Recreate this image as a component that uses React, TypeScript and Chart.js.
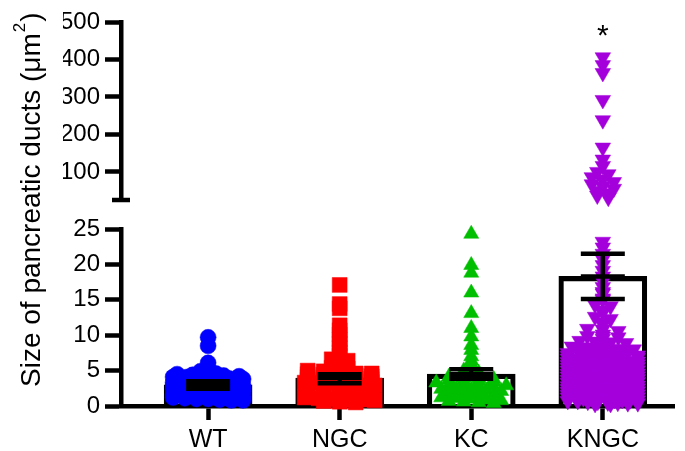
import React, { useEffect, useRef } from 'react';
import { Chart, registerables } from 'chart.js';

Chart.register(...registerables);

// ---------- data ----------
const CATEGORIES = ['WT', 'NGC', 'KC', 'KNGC'];
const BAR_MEANS = [3.0, 3.95, 4.5, 18.3];
const ERR_LOW = [2.45, 3.2, 3.85, 15.1];
const ERR_HIGH = [3.5, 4.5, 5.2, 21.5];
const SIGNIFICANCE = ['', '', '', '*'];
const SIGNIFICANCE_VALUE = 438; // upper-axis units
const LOWER_TICKS = [0, 5, 10, 15, 20, 25];
const UPPER_TICKS = [100, 200, 300, 400, 500];
const BREAK_VALUE = 25;

const WT_VALUES = [9.7, 8.5, 6.1, 5.3, 4.9, 4.6, 4.5, 4.4, 4.4, 4.3, 4.2, 4.1, 4.1, 4.0, 3.9, 3.9, 3.8, 3.7, 3.6, 3.6, 3.5, 3.4, 3.3, 3.2, 3.2, 3.1, 3.0, 2.9, 2.9, 2.8, 2.8, 2.7, 2.6, 2.5, 2.5, 2.4, 2.4, 2.3, 2.2, 2.1, 2.1, 2.0, 1.9, 1.9, 1.8, 1.7, 1.6, 1.6, 1.5, 1.4, 1.4, 1.3, 1.2, 1.1, 1.0, 1.0, 0.9, 0.8, 0.8];
const NGC_VALUES = [17.1, 14.4, 13.8, 11.4, 10.7, 10.1, 9.4, 8.8, 8.2, 7.6, 7.1, 6.6, 6.4, 6.0, 5.8, 5.4, 5.3, 5.0, 4.9, 4.7, 4.6, 4.6, 4.5, 4.4, 4.3, 4.3, 4.2, 4.1, 4.0, 4.0, 3.9, 3.8, 3.7, 3.7, 3.6, 3.5, 3.4, 3.3, 3.3, 3.2, 3.1, 3.0, 2.9, 2.9, 2.8, 2.7, 2.6, 2.5, 2.5, 2.4, 2.3, 2.2, 2.1, 2.1, 2.0, 1.9, 1.8, 1.7, 1.7, 1.6, 1.5, 1.4, 1.3, 1.3, 1.2, 1.1, 1.0, 0.9, 0.9, 0.8, 0.7, 0.6, 0.5];
const KC_VALUES = [24.3, 19.9, 18.8, 16.0, 13.1, 11.0, 9.8, 8.6, 7.9, 7.0, 6.4, 5.9, 5.5, 5.0, 4.7, 4.4, 4.3, 4.1, 4.0, 3.9, 3.8, 3.7, 3.6, 3.5, 3.4, 3.3, 3.2, 3.1, 3.0, 3.0, 2.9, 2.8, 2.7, 2.6, 2.5, 2.4, 2.4, 2.3, 2.2, 2.1, 2.0, 1.9, 1.8, 1.7, 1.6, 1.5, 1.4, 1.3, 1.2, 1.1, 1.0, 0.9, 0.8, 0.7, 0.6, 0.5, 0.4];
const KNGC_VALUES = [406, 385, 364, 292, 238, 165, 133, 116, 100, 94, 86, 80, 73, 67, 61, 55, 49, 43, 37, 31,
  23.2, 22.4, 21.5, 20.7, 19.9, 19.1, 18.3, 17.6, 16.8, 16.1, 15.9, 15.2, 15.0, 14.3, 14.1, 13.5, 13.2, 12.6, 12.3, 11.8, 11.5, 10.9, 10.8, 10.6, 10.1, 9.9, 9.8, 9.7, 9.5, 9.2, 9.1, 9.0, 8.9, 8.6, 8.4, 8.3, 8.2, 8.1, 8.0, 7.9, 7.8, 7.7, 7.6, 7.5, 7.45, 7.4, 7.3, 7.25, 7.2, 7.15, 7.1,
  6.95, 6.9, 6.85, 6.8, 6.8, 6.7, 6.6, 6.6, 6.5, 6.5, 6.45, 6.4, 6.3, 6.2, 6.2, 6.1, 6.0, 6.0, 5.95, 5.9, 5.9, 5.8, 5.7, 5.7, 5.6, 5.6, 5.55, 5.5, 5.4, 5.4, 5.3, 5.3, 5.2, 5.1, 5.1, 5.05, 5.0, 4.9, 4.9, 4.8, 4.8, 4.7, 4.6, 4.6, 4.55, 4.5, 4.5, 4.4, 4.3, 4.3, 4.2, 4.2, 4.15, 4.1, 4.0, 4.0, 3.9, 3.9, 3.8, 3.8, 3.7, 3.65, 3.6, 3.6, 3.5, 3.5, 3.4, 3.3, 3.3, 3.2, 3.2, 3.15, 3.1, 3.0, 3.0, 3.0, 2.9, 2.8, 2.8, 2.7, 2.65, 2.6, 2.6, 2.5, 2.5, 2.4, 2.4, 2.3, 2.3, 2.2, 2.2, 2.15, 2.1, 2.0, 2.0, 1.9, 1.9, 1.8, 1.8, 1.7, 1.65, 1.6, 1.6, 1.5, 1.5, 1.4, 1.4, 1.3, 1.25, 1.2, 1.2, 1.1, 1.1, 1.0, 0.9, 0.9, 0.85, 0.8, 0.8, 0.7, 0.7, 0.6, 0.6, 0.5, 0.45, 0.4, 0.4, 0.3, 0.3];

const GROUP_VALUES = [WT_VALUES, NGC_VALUES, KC_VALUES, KNGC_VALUES];

// ---------- styles ----------
const COLORS = ['#0000FF', '#FF0000', '#00BE00', '#A400DC'];
const POINT_STYLES = ['circle', 'rect', 'triangle', 'triangle'];
const POINT_ROTATION = [0, 0, 0, 180];
const POINT_RADIUS = [8, 10.5, 8.7, 9];
const POINT_STEP = [15.5, 16, 15, 15.5];
const FONT = "'Liberation Sans', Arial, Helvetica, sans-serif";
const LINE_W = 4.5;

function rowOffsets(pix: number[], rowH: number, step: number, span: number): number[] {
  const rows: Record<string, number[]> = {};
  pix.forEach((p, i) => {
    const r = String(Math.round(p / rowH));
    (rows[r] = rows[r] || []).push(i);
  });
  const out = pix.map(() => 0);
  Object.keys(rows).forEach((k) => {
    const idx = rows[k];
    const n = idx.length;
    if (n < 2) return;
    const s = Math.min(step, span / (n - 1));
    idx.forEach((i, j) => {
      out[i] = (j - (n - 1) / 2) * s;
    });
  });
  return out;
}

const decorPlugin = {
  id: 'decor',
  afterDatasetsDraw(chart: any) {
    const { ctx, scales } = chart;
    const xs = scales.x;
    const ys = scales.y;
    ctx.save();
    ctx.strokeStyle = '#000';
    ctx.lineWidth = LINE_W;
    ctx.lineCap = 'butt';
    CATEGORIES.forEach((c, i) => {
      const x = xs.getPixelForValue(i + 1);
      const yl = ys.getPixelForValue(ERR_LOW[i]);
      const yh = ys.getPixelForValue(ERR_HIGH[i]);
      const ym = ys.getPixelForValue(BAR_MEANS[i]);
      const hw = 22;
      ctx.beginPath();
      ctx.moveTo(x, yl);
      ctx.lineTo(x, yh);
      ctx.moveTo(x - hw, yl);
      ctx.lineTo(x + hw, yl);
      ctx.moveTo(x - hw, yh);
      ctx.lineTo(x + hw, yh);
      ctx.moveTo(x - hw, ym);
      ctx.lineTo(x + hw, ym);
      ctx.stroke();
    });
    ctx.restore();
  },
  afterDraw(chart: any) {
    const { ctx, scales, chartArea } = chart;
    const y2 = scales.y2;
    ctx.save();
    // axis break cap
    ctx.strokeStyle = '#000';
    ctx.lineWidth = LINE_W;
    ctx.beginPath();
    ctx.moveTo(chartArea.left - 9, y2.bottom);
    ctx.lineTo(chartArea.left + 9, y2.bottom);
    ctx.stroke();
    // significance marks
    ctx.fillStyle = '#000';
    ctx.font = `30px ${FONT}`;
    ctx.textAlign = 'center';
    ctx.textBaseline = 'alphabetic';
    SIGNIFICANCE.forEach((s, i) => {
      if (!s) return;
      ctx.fillText(s, scales.x.getPixelForValue(i + 1), y2.getPixelForValue(SIGNIFICANCE_VALUE));
    });
    // y axis title
    ctx.translate(40, 387);
    ctx.rotate(-Math.PI / 2);
    ctx.textAlign = 'left';
    ctx.font = `28px ${FONT}`;
    const main = 'Size of pancreatic ducts (\u03BCm';
    ctx.fillText(main, 0, 0);
    let w = ctx.measureText(main).width;
    ctx.font = `17px ${FONT}`;
    ctx.fillText('2', w + 1, -15);
    w += ctx.measureText('2').width + 2;
    ctx.font = `28px ${FONT}`;
    ctx.fillText(')', w, 0);
    ctx.restore();
  },
};

export default function App() {
  const ref = useRef<HTMLCanvasElement | null>(null);
  useEffect(() => {
    document.body.style.margin = '0';
    const canvas = ref.current;
    if (!canvas) return;

    const scatterSets: any[] = [];
    const groups: any[] = [];
    GROUP_VALUES.forEach((vals, i) => {
      const lower = vals.filter((v) => v <= BREAK_VALUE);
      const upper = vals.filter((v) => v > BREAK_VALUE);
      [[lower, 'y'], [upper, 'y2']].forEach(([arr, axis]: any) => {
        if (!arr.length) return;
        groups.push({ pos: i + 1, values: arr, axis, ds: scatterSets.length + 1, step: POINT_STEP[i] });
        scatterSets.push({
          type: 'scatter',
          data: arr.map((v: number) => ({ x: i + 1, y: v })),
          yAxisID: axis,
          xAxisID: 'x',
          pointStyle: POINT_STYLES[i],
          rotation: POINT_ROTATION[i],
          pointRadius: POINT_RADIUS[i],
          pointHoverRadius: POINT_RADIUS[i],
          backgroundColor: COLORS[i],
          borderColor: COLORS[i],
          borderWidth: 0.5,
          clip: false,
          order: 1,
        });
      });
    });

    const tickFont = { family: FONT, size: 24 };
    const yCommon = {
      type: 'linear',
      position: 'left',
      stack: 'v',
      afterFit: (s: any) => { s.width = 58; },
    };
    const yTicks = { font: tickFont, color: '#000', padding: 5, autoSkip: false };

    const chart = new Chart(canvas, {
      type: 'bar',
      data: {
        datasets: [
          {
            type: 'bar',
            data: CATEGORIES.map((c, i) => ({ x: i + 1, y: BAR_MEANS[i] })),
            backgroundColor: 'rgba(0,0,0,0)',
            borderColor: '#000',
            borderWidth: LINE_W,
            barThickness: 88,
            grouped: false,
            xAxisID: 'x',
            yAxisID: 'y',
            order: 10,
          } as any,
          ...scatterSets,
        ],
      },
      options: {
        responsive: false,
        animation: false,
        events: [],
        layout: { padding: { left: 63, top: 22, right: 5, bottom: 0 } },
        plugins: { legend: { display: false }, tooltip: { enabled: false } },
        scales: {
          x: {
            type: 'linear',
            offset: false,
            min: 0.338,
            max: 4.541,
            afterBuildTicks: (s: any) => { s.ticks = CATEGORIES.map((c, i) => ({ value: i + 1 })); },
            afterFit: (s: any) => { s.height = 45; },
            ticks: {
              callback: (v: any) => CATEGORIES[Math.round(v) - 1],
              font: { family: FONT, size: 25 },
              color: '#000',
              padding: 5,
              maxRotation: 0,
              autoSkip: false,
            },
            grid: { offset: false, drawOnChartArea: false, drawTicks: true, tickLength: 14, tickWidth: LINE_W, tickColor: '#000', color: '#000' },
            border: { display: true, color: '#000', width: LINE_W },
          },
          y2: {
            ...yCommon,
            weight: 3,
            stackWeight: 178,
            min: BREAK_VALUE,
            max: 500,
            afterBuildTicks: (s: any) => { s.ticks = UPPER_TICKS.map((v) => ({ value: v })); },
            ticks: yTicks,
            grid: { drawOnChartArea: false, drawTicks: true, tickLength: 16, tickWidth: LINE_W, tickColor: '#000', color: '#000' },
            border: { display: true, color: '#000', width: LINE_W },
          },
          gap: {
            ...yCommon,
            weight: 2,
            stackWeight: 29,
            min: 0,
            max: 1,
            ticks: { display: false },
            grid: { display: false, drawTicks: false },
            border: { display: false },
          },
          y: {
            ...yCommon,
            weight: 1,
            stackWeight: 177,
            min: 0,
            max: BREAK_VALUE,
            afterBuildTicks: (s: any) => { s.ticks = LOWER_TICKS.map((v) => ({ value: v })); },
            ticks: yTicks,
            grid: { drawOnChartArea: false, drawTicks: true, tickLength: 16, tickWidth: LINE_W, tickColor: '#000', color: '#000' },
            border: { display: true, color: '#000', width: LINE_W },
          },
        } as any,
      },
      plugins: [decorPlugin],
    } as any);

    // spread points horizontally in rows (scatter-dot-plot layout)
    const xs: any = chart.scales.x;
    const pxPerUnit = xs.getPixelForValue(2) - xs.getPixelForValue(1);
    groups.forEach((g) => {
      const ys: any = (chart.scales as any)[g.axis];
      const pix = g.values.map((v: number) => ys.getPixelForValue(v));
      const upper = g.axis === 'y2';
      const off = rowOffsets(pix, upper ? 6 : 3, upper ? 11 : g.step, upper ? 24 : 70);
      (chart.data.datasets[g.ds] as any).data = g.values.map((v: number, k: number) => ({ x: g.pos + off[k] / pxPerUnit, y: v }));
    });
    chart.update();

    return () => chart.destroy();
  }, []);

  return <canvas ref={ref} width={685} height={451} style={{ display: 'block', width: 685, height: 451 }} />;
}
